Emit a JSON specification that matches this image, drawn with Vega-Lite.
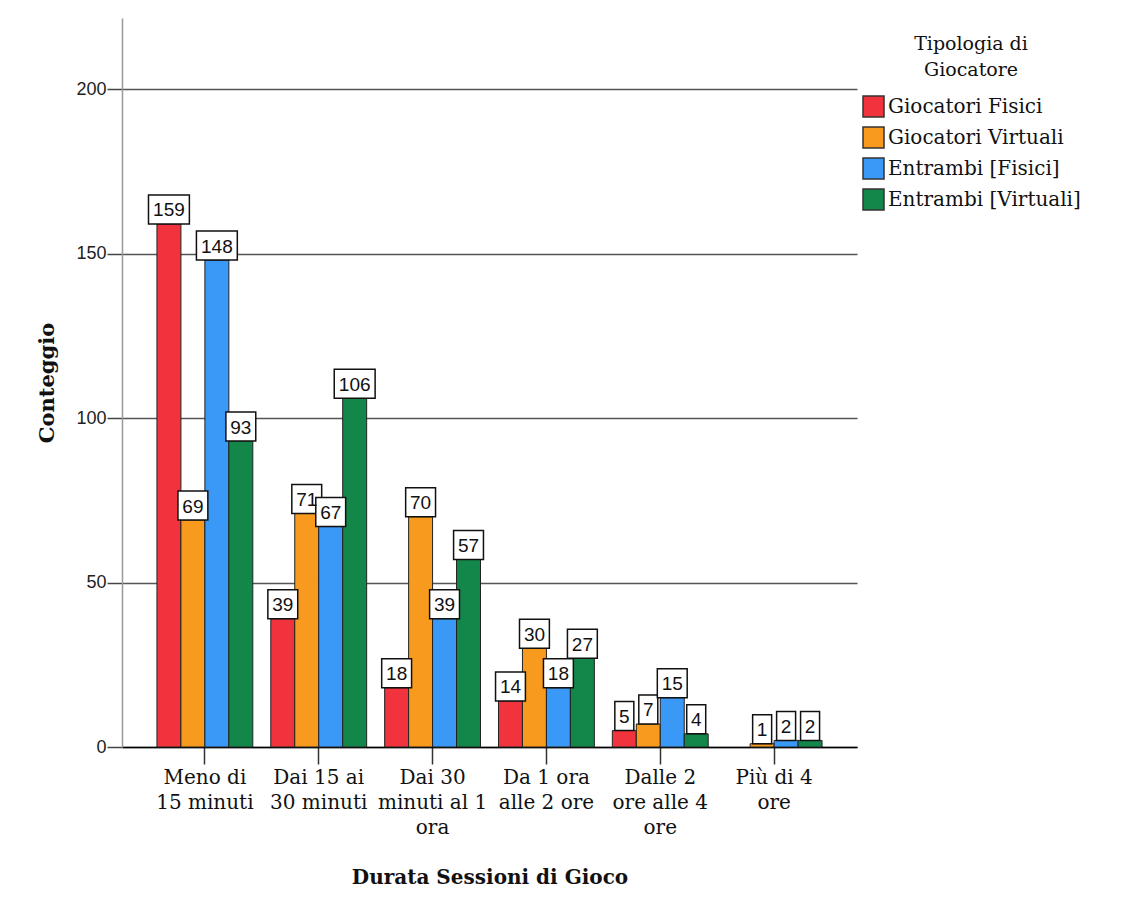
{
  "$schema": "https://vega.github.io/schema/vega-lite/v6.json",
  "width": 735,
  "height": 729,
  "autosize": {"type": "none"},
  "padding": {"left": 122, "top": 18, "right": 274, "bottom": 164},
  "background": "white",
  "config": {"view": {"stroke": null}},
  "data": {
    "values": [
      {"durata": "Meno di|15 minuti", "tipo": "Giocatori Fisici", "n": 159},
      {"durata": "Meno di|15 minuti", "tipo": "Giocatori Virtuali", "n": 69},
      {"durata": "Meno di|15 minuti", "tipo": "Entrambi [Fisici]", "n": 148},
      {"durata": "Meno di|15 minuti", "tipo": "Entrambi [Virtuali]", "n": 93},
      {"durata": "Dai 15 ai|30 minuti", "tipo": "Giocatori Fisici", "n": 39},
      {"durata": "Dai 15 ai|30 minuti", "tipo": "Giocatori Virtuali", "n": 71},
      {"durata": "Dai 15 ai|30 minuti", "tipo": "Entrambi [Fisici]", "n": 67},
      {"durata": "Dai 15 ai|30 minuti", "tipo": "Entrambi [Virtuali]", "n": 106},
      {"durata": "Dai 30|minuti al 1|ora", "tipo": "Giocatori Fisici", "n": 18},
      {"durata": "Dai 30|minuti al 1|ora", "tipo": "Giocatori Virtuali", "n": 70},
      {"durata": "Dai 30|minuti al 1|ora", "tipo": "Entrambi [Fisici]", "n": 39},
      {"durata": "Dai 30|minuti al 1|ora", "tipo": "Entrambi [Virtuali]", "n": 57},
      {"durata": "Da 1 ora|alle 2 ore", "tipo": "Giocatori Fisici", "n": 14},
      {"durata": "Da 1 ora|alle 2 ore", "tipo": "Giocatori Virtuali", "n": 30},
      {"durata": "Da 1 ora|alle 2 ore", "tipo": "Entrambi [Fisici]", "n": 18},
      {"durata": "Da 1 ora|alle 2 ore", "tipo": "Entrambi [Virtuali]", "n": 27},
      {"durata": "Dalle 2|ore alle 4|ore", "tipo": "Giocatori Fisici", "n": 5},
      {"durata": "Dalle 2|ore alle 4|ore", "tipo": "Giocatori Virtuali", "n": 7},
      {"durata": "Dalle 2|ore alle 4|ore", "tipo": "Entrambi [Fisici]", "n": 15},
      {"durata": "Dalle 2|ore alle 4|ore", "tipo": "Entrambi [Virtuali]", "n": 4},
      {"durata": "Più di 4|ore", "tipo": "Giocatori Fisici", "n": 0},
      {"durata": "Più di 4|ore", "tipo": "Giocatori Virtuali", "n": 1},
      {"durata": "Più di 4|ore", "tipo": "Entrambi [Fisici]", "n": 2},
      {"durata": "Più di 4|ore", "tipo": "Entrambi [Virtuali]", "n": 2}
    ]
  },
  "encoding": {
    "x": {
      "field": "durata",
      "type": "nominal",
      "sort": null,
      "scale": {"paddingInner": 0.158, "paddingOuter": 0.307},
      "axis": {
        "title": "Durata Sessioni di Gioco",
        "titleFont": "DejaVu Serif",
        "titleFontSize": 20,
        "titleFontWeight": "bold",
        "titleColor": "#111",
        "titlePadding": 30,
        "labelExpr": "split(datum.label, '|')",
        "labelFont": "DejaVu Serif",
        "labelFontSize": 20,
        "labelLineHeight": 25,
        "labelColor": "#111",
        "labelAngle": 0,
        "labelPadding": 3,
        "labelLimit": 200,
        "labelOverlap": false,
        "domainColor": "#000",
        "domainWidth": 1.5,
        "tickColor": "#333",
        "tickWidth": 1.5,
        "tickSize": 17,
        "grid": false
      }
    },
    "xOffset": {
      "field": "tipo",
      "type": "nominal",
      "sort": ["Giocatori Fisici", "Giocatori Virtuali", "Entrambi [Fisici]", "Entrambi [Virtuali]"],
      "scale": {"paddingInner": 0, "paddingOuter": 0}
    },
    "y": {
      "field": "n",
      "type": "quantitative",
      "scale": {"domain": [0, 221.6], "nice": false},
      "axis": {
        "title": "Conteggio",
        "titleFont": "DejaVu Serif",
        "titleFontSize": 21,
        "titleFontWeight": "bold",
        "titleColor": "#111",
        "titlePadding": 18,
        "values": [0, 50, 100, 150, 200],
        "labelFont": "Liberation Sans",
        "labelFontSize": 18,
        "labelColor": "#222",
        "labelPadding": 1,
        "tickSize": 15,
        "tickColor": "#444",
        "tickWidth": 1.5,
        "domainColor": "#999",
        "domainWidth": 1.5,
        "grid": true,
        "gridColor": "#555",
        "gridWidth": 1.5
      }
    }
  },
  "layer": [
    {
      "transform": [{"filter": "datum.n > 0"}],
      "mark": {"type": "bar", "stroke": "#222", "strokeWidth": 1},
      "encoding": {
        "color": {
          "field": "tipo",
          "type": "nominal",
          "sort": ["Giocatori Fisici", "Giocatori Virtuali", "Entrambi [Fisici]", "Entrambi [Virtuali]"],
          "scale": {
            "domain": ["Giocatori Fisici", "Giocatori Virtuali", "Entrambi [Fisici]", "Entrambi [Virtuali]"],
            "range": ["#F0333D", "#F79A1E", "#3A98F6", "#13874A"]
          },
          "legend": {
            "title": ["Tipologia di", "Giocatore"],
            "orient": "none",
            "legendX": 740,
            "legendY": 17,
            "titleFont": "DejaVu Serif",
            "titleFontSize": 19,
            "titleFontWeight": "normal",
            "titleColor": "#111",
            "titleLineHeight": 26,
            "titleAlign": "center",
            "titleAnchor": "middle",
            "titlePadding": 15,
            "labelFont": "DejaVu Serif",
            "labelFontSize": 20,
            "labelColor": "#111",
            "labelOffset": 3,
            "labelLimit": 300,
            "symbolType": "square",
            "symbolSize": 441,
            "symbolStrokeColor": "#333",
            "symbolStrokeWidth": 1.5,
            "symbolOpacity": 1,
            "rowPadding": 4
          }
        }
      }
    },
    {
      "transform": [{"filter": "datum.n > 0"}],
      "mark": {"type": "point", "filled": true, "fill": "white", "stroke": "#111", "strokeWidth": 1.5, "opacity": 1, "yOffset": -14.5, "size": 841},
      "encoding": {
        "shape": {
          "condition": [
            {"test": "datum.n >= 100", "value": "M-1.41,-1L1.41,-1L1.41,1L-1.41,1Z"},
            {"test": "datum.n >= 10", "value": "M-1.03,-1L1.03,-1L1.03,1L-1.03,1Z"}
          ],
          "value": "M-0.655,-1L0.655,-1L0.655,1L-0.655,1Z"
        }
      }
    },
    {
      "transform": [{"filter": "datum.n > 0"}],
      "mark": {"type": "text", "font": "Liberation Sans", "fontSize": 19, "color": "#111", "baseline": "middle", "yOffset": -13.5},
      "encoding": {"text": {"field": "n", "type": "quantitative"}}
    }
  ]
}
